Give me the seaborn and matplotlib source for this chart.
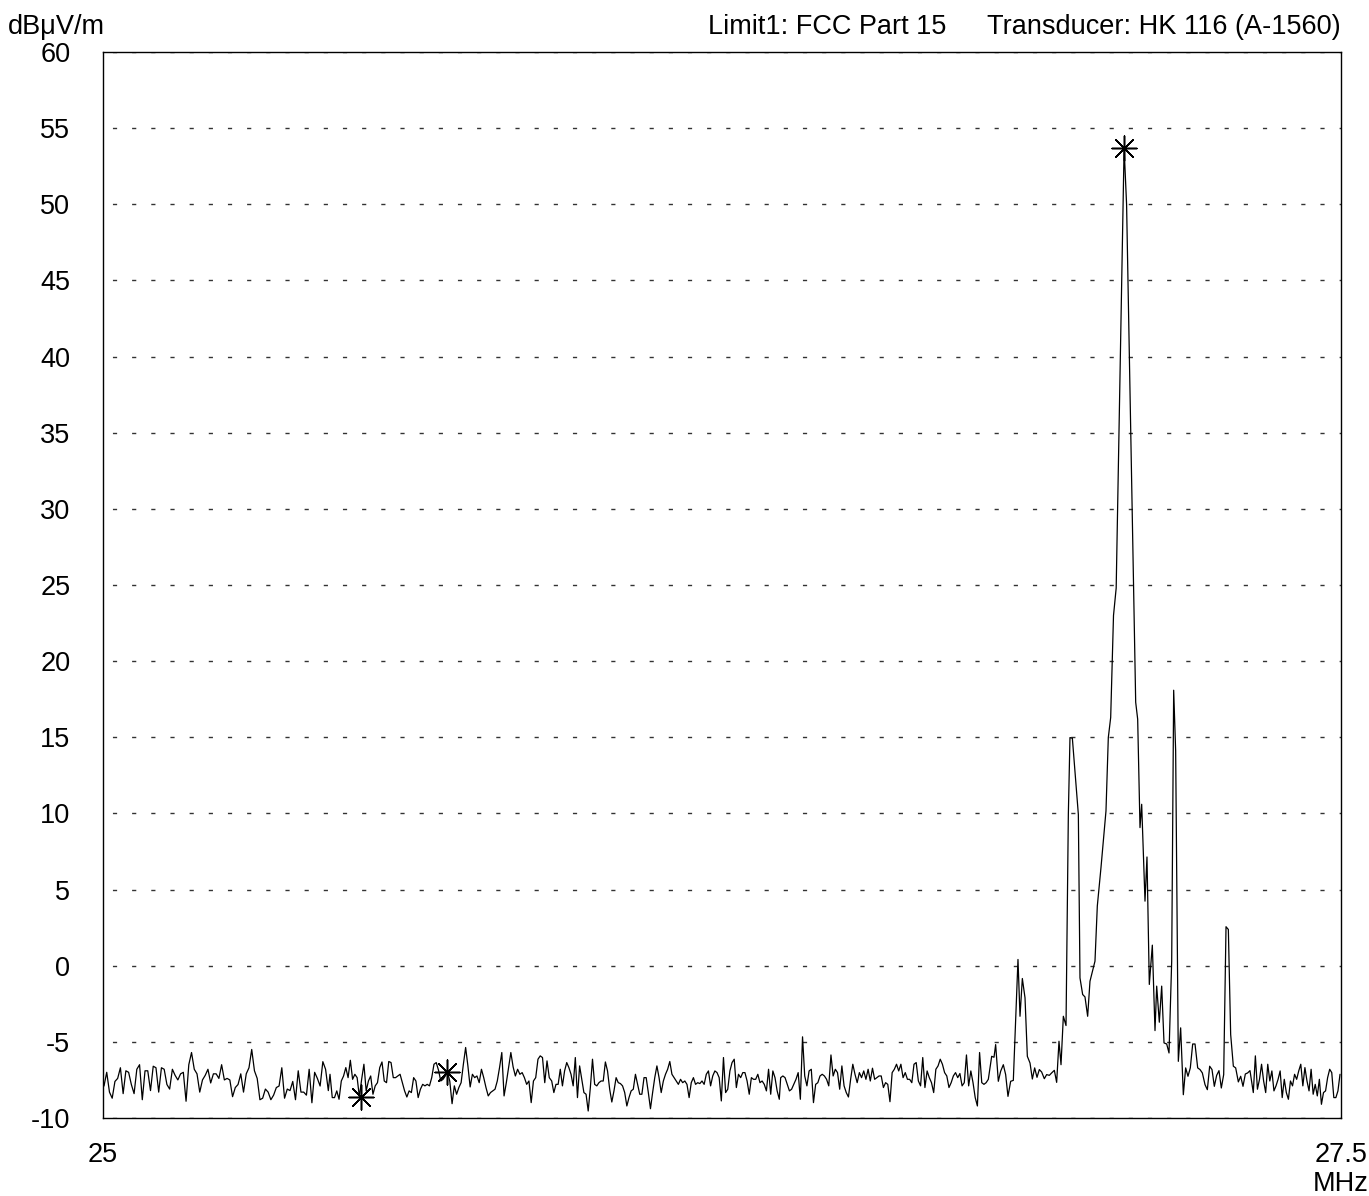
import numpy as np
import matplotlib
matplotlib.use("Agg")
import matplotlib.pyplot as plt
import seaborn as sns

# ---------------- data ----------------
# noise-floor segments: level readings, evenly spread between start/stop frequency (MHz)
seg_a_start, seg_a_stop = 25.0020, 25.4550
level_a = [-7.9, -7.0, -8.3, -8.7, -7.6, -7.4, -6.7, -8.4, -6.9, -7.0, -7.8, -8.4, -6.8, -6.5,
           -8.8, -6.9, -6.9, -8.2, -6.6, -6.7, -8.3, -6.7, -6.8, -7.8, -8.1, -6.8, -7.2, -7.5,
           -7.1, -7.0, -8.9, -6.5, -5.7, -6.8, -7.1, -8.3, -7.5, -7.2, -6.8, -7.7, -7.1, -7.1,
           -7.4, -6.5, -7.5, -7.4, -7.5, -8.6, -8.0, -7.8, -7.1, -8.3, -7.1, -6.7, -5.5, -6.9,
           -7.4, -8.8, -8.7, -8.1, -8.3, -8.8, -8.5, -8.0, -7.9, -6.7, -8.7, -8.1, -8.2, -7.6,
           -8.8, -6.9, -8.3, -8.3, -8.5, -6.8, -9.0, -7.0, -7.4, -7.9, -6.3, -6.8, -8.2]

seg_b_start, seg_b_stop = 25.4584, 25.9012
level_b = [-7.13, -8.66, -8.66, -8.22, -8.77, -7.57, -7.24, -6.69, -7.35, -6.21, -7.46, -7.13,
           -7.35, -8.6, -7.46, -6.47, -8.22, -7.57, -7.24, -8.44, -7.89, -7.68, -6.69, -6.32,
           -7.57, -7.68, -6.29, -6.36, -7.35, -7.35, -7.24, -7.13, -7.68, -8.22, -8.62, -8.22,
           -8.33, -7.35, -7.57, -8.66, -8.11, -7.79, -7.89, -7.79, -7.89, -7.35, -6.47, -6.36,
           -6.86, -7.57, -7.46, -7.24, -6.97, -7.6, -9.06, -7.89, -8.44, -8.0, -7.68, -6.47,
           -5.37, -6.58, -7.96, -7.13, -7.35, -7.24, -7.68, -6.80, -7.35, -8.0, -8.55, -8.33,
           -8.22, -8.11, -7.57, -6.69, -5.70, -8.55, -7.68, -6.69, -5.70, -6.64, -7.24, -6.80,
           -7.13, -7.02, -7.35, -7.79, -7.57, -8.99, -7.57, -7.35, -6.14, -5.92, -6.03, -7.68,
           -6.25, -7.35]

seg_c_start, seg_c_stop = 25.9061, 26.3657
level_c = [-7.57, -8.33, -7.79, -7.79, -6.80, -7.89, -6.91, -6.36, -6.69, -7.13, -7.89, -6.03,
           -8.66, -6.58, -7.46, -8.33, -8.44, -9.54, -8.0, -6.14, -7.79, -7.89, -7.68, -7.57,
           -7.57, -6.32, -6.91, -8.11, -8.95, -8.22, -7.35, -7.68, -7.74, -7.89, -8.33, -9.21,
           -8.66, -8.22, -8.11, -7.13, -7.79, -8.44, -8.44, -7.35, -7.35, -8.33, -9.39, -8.33,
           -7.35, -6.58, -7.35, -8.33, -7.57, -7.13, -6.80, -6.29, -7.13, -7.35, -7.57, -7.79,
           -7.46, -7.68, -7.57, -7.79, -8.66, -7.68, -7.35, -7.79, -7.68, -7.74, -7.57, -7.79,
           -7.13, -6.91, -7.89, -7.24, -6.91, -7.02, -7.35, -8.88, -6.03, -8.33, -8.11, -6.91,
           -6.36, -6.14, -8.0, -7.13, -7.35, -7.02, -7.02, -7.57, -8.44, -7.35, -7.46, -7.46,
           -7.13, -7.68, -7.57, -7.79, -8.22, -6.80, -8.44, -6.91, -7.35, -8.22, -8.77]

seg_d_start, seg_d_stop = 26.3685, 26.7878
level_d = [-7.35, -7.24, -7.35, -7.79, -8.22, -8.11, -7.79, -7.46, -7.02, -8.77, -4.67, -7.24,
           -7.89, -6.91, -6.80, -8.99, -7.79, -7.68, -7.24, -7.13, -7.24, -7.46, -7.89, -5.86,
           -7.24, -6.80, -7.02, -8.11, -6.58, -7.89, -8.33, -8.62, -7.46, -6.47, -7.13, -7.68,
           -7.02, -7.35, -6.91, -7.46, -6.80, -7.57, -6.73, -7.46, -7.35, -7.24, -7.24, -8.0,
           -7.68, -7.79, -8.93, -7.02, -6.80, -6.47, -6.91, -6.47, -7.35, -7.02, -7.46, -7.46,
           -7.68, -6.47, -6.36, -7.57, -7.89, -6.03, -8.0, -6.91, -7.35, -7.68, -8.33, -6.80,
           -6.58, -6.14, -6.47, -7.02, -7.24, -8.0, -7.68, -7.24, -7.02, -7.35, -7.08, -7.89,
           -7.68, -5.86, -7.89, -6.91, -7.68, -8.66, -9.21, -5.70, -7.68, -7.79, -7.68, -7.46]

# signal region: explicit frequency / level readings
signal_freq = [26.7946, 26.7993, 26.8026, 26.8080, 26.8127, 26.8181, 26.8228, 26.8275, 26.8329,
               26.8383, 26.8477, 26.8518, 26.8565, 26.8619, 26.8666, 26.8720, 26.8767, 26.8814,
               26.8861, 26.8908, 26.8955, 26.9009, 26.9056, 26.9110, 26.9157, 26.9211, 26.9258,
               26.9305, 26.9346, 26.9393, 26.9447, 26.9494, 26.9527, 26.9575, 26.9696, 26.9729,
               26.9783, 26.9830, 26.9884, 26.9931, 27.0032, 27.0079, 27.0153, 27.0201, 27.0254,
               27.0301, 27.0349, 27.0406, 27.0460, 27.0620, 27.0670, 27.0854, 27.0894, 27.0941,
               27.0975, 27.1042, 27.1082, 27.1129, 27.1190, 27.1244, 27.1278, 27.1331, 27.1379,
               27.1426, 27.1480, 27.1527, 27.1581, 27.1621, 27.1661, 27.1715, 27.1762, 27.1816,
               27.1863, 27.1910, 27.1957, 27.2005, 27.2052, 27.2106, 27.2153, 27.2200, 27.2254,
               27.2301, 27.2348, 27.2395, 27.2442, 27.2489, 27.2536, 27.2583, 27.2631, 27.2678,
               27.2725, 27.2772, 27.2826, 27.2873, 27.2927, 27.2974, 27.3021, 27.3068, 27.3115,
               27.3162]
signal_level = [-5.95, -6.01, -5.18, -7.59, -6.93, -6.50, -7.15, -8.58, -7.59, -7.53, 0.41, -3.32,
                -0.84, -2.11, -5.95, -6.39, -7.44, -6.71, -7.33, -6.82, -6.98, -7.42, -7.15, -7.20,
                -7.04, -6.87, -7.66, -4.96, -6.50, -3.32, -3.93, 9.94, 14.98, 14.94, 9.94, -0.80,
                -1.89, -2.05, -3.32, -1.02, 0.30, 3.92, 6.44, 8.19, 10.16, 14.98, 16.30, 23.0,
                24.8, 53.7, 50.0, 17.3, 16.19, 9.07, 10.60, 4.24, 7.14, -1.23, 1.35, -4.26, -1.34,
                -3.71, -1.34, -5.07, -5.14, -5.73, 0.30, 18.09, 14.11, -6.28, -4.08, -8.47, -6.71,
                -7.26, -6.71, -5.14, -5.14, -6.71, -6.82, -7.04, -7.81, -8.14, -6.60, -6.82, -7.92,
                -7.20, -6.89, -8.03, -7.15, 2.56, 2.38, -4.52, -6.60, -6.71, -7.63, -7.26, -7.92,
                -7.11, -7.04, -6.89]

seg_e_start, seg_e_stop = 27.3229, 27.4980
level_e = [-8.33, -5.92, -8.11, -7.46, -6.47, -7.57, -8.33, -6.47, -7.57, -6.91, -8.22, -7.89,
           -7.46, -6.91, -8.66, -7.46, -8.33, -8.77, -7.57, -7.89, -7.13, -7.46, -6.91, -6.47,
           -7.89, -6.69, -7.57, -8.22, -6.80, -8.44, -7.79, -8.55, -7.46, -9.10, -8.33, -8.22,
           -7.35, -6.80, -7.02, -8.66, -8.66, -8.22, -7.13]

# markers
marker_freq = [27.0620, 25.5204, 25.6953]
marker_level = [53.7, -8.6, -7.0]

y_ticks = list(range(-10, 61, 5))
x_ticks = [25, 27.5]
x_tick_labels = ["25", "27.5\nMHz"]
unit_label = "dB\u03bcV/m"
header_left = "Limit1: FCC Part 15"
header_right = "Transducer: HK 116 (A-1560)"

# ---------------- assemble trace ----------------
freq = np.concatenate([
    np.linspace(seg_a_start, seg_a_stop, len(level_a)),
    np.linspace(seg_b_start, seg_b_stop, len(level_b)),
    np.linspace(seg_c_start, seg_c_stop, len(level_c)),
    np.linspace(seg_d_start, seg_d_stop, len(level_d)),
    np.array(signal_freq),
    np.linspace(seg_e_start, seg_e_stop, len(level_e)),
])
level = np.concatenate([level_a, level_b, level_c, level_d, signal_level, level_e])

# ---------------- plot ----------------
sns.set_style("white")
plt.rcParams["font.family"] = ["Liberation Sans", "DejaVu Sans"]
plt.rcParams["text.color"] = "black"
plt.rcParams["xtick.color"] = "black"
plt.rcParams["ytick.color"] = "black"
FS = 19.5

W, H = 1369, 1196
fig = plt.figure(figsize=(W / 100, H / 100), dpi=100)
ax = fig.add_axes([103 / W, 1 - 1118 / H, (1341 - 103) / W, (1118 - 52) / H])

sns.lineplot(x=freq, y=level, ax=ax, color="black", linewidth=0.9,
             estimator=None, sort=False)
sns.scatterplot(x=marker_freq, y=marker_level, ax=ax, marker=(8, 2, 0), s=320,
                color="black", edgecolor="black", linewidth=1.1, zorder=5)

ax.set_xlim(25, 27.5)
ax.set_ylim(-10, 60)
ax.set_yticks(y_ticks)
ax.set_yticklabels([str(v) for v in y_ticks], fontsize=FS, color="black")
ax.set_xticks(x_ticks)
ax.set_xticklabels(x_tick_labels, fontsize=FS, linespacing=1.15, color="black")
ax.tick_params(axis="both", length=0)
ax.tick_params(axis="y", pad=23.5)
ax.tick_params(axis="x", pad=17)
ax.set_xlabel("")
ax.set_ylabel("")

ax.yaxis.grid(True, color="#333333", linewidth=1.0, linestyle=(7.0, (3.0, 10.8)))
ax.xaxis.grid(False)
for sp in ax.spines.values():
    sp.set_color("black")
    sp.set_linewidth(1.0)
    sp.set_visible(True)

fig.text(8 / W, 1 - 27 / H, unit_label, ha="left", va="center", fontsize=FS, color="black")
fig.text(708 / W, 1 - 27 / H, header_left, ha="left", va="center", fontsize=FS, color="black")
fig.text(1341 / W, 1 - 27 / H, header_right, ha="right", va="center", fontsize=FS, color="black")

fig.savefig("out.png", dpi=100, facecolor="white")
